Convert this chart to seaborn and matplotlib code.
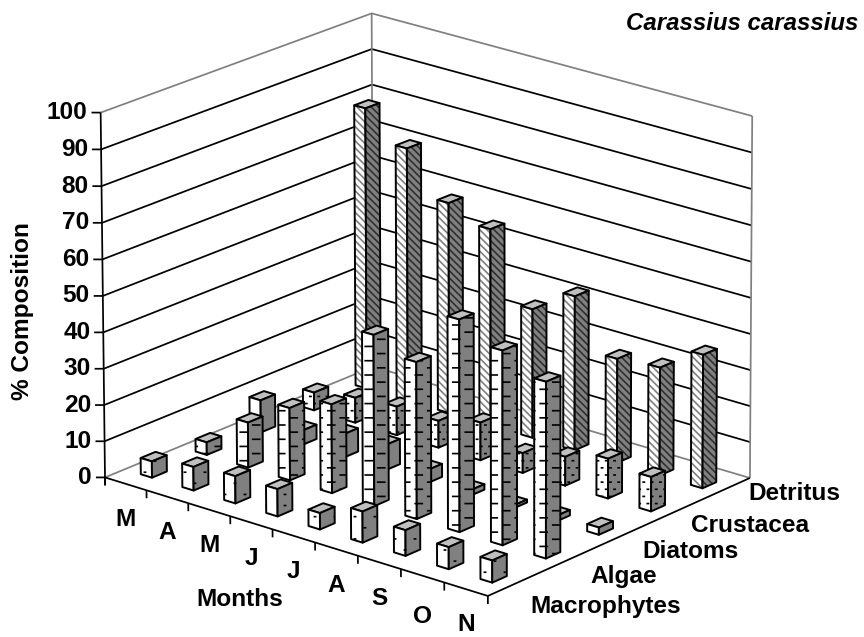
import numpy as np
import pandas as pd
import matplotlib
matplotlib.use("Agg")
import matplotlib.pyplot as plt
from matplotlib import hatch as mhatch
from matplotlib.path import Path
from mpl_toolkits.mplot3d import proj3d
from mpl_toolkits.mplot3d.art3d import Poly3DCollection, Line3DCollection
import seaborn as sns

months = ["M", "A", "M", "J", "J", "A", "S", "O", "N"]
foods = ["Macrophytes", "Algae", "Diatoms", "Crustacea", "Detritus"]
z_ticks = [0, 10, 20, 30, 40, 50, 60, 70, 80, 90, 100]

macrophytes = [4.5, 6.5, 7.5, 7.5, 4.5, 8.5, 7, 6, 6]
algae = [3.5, 12.5, 20, 24.5, 47, 43, 58, 53, 48]
diatoms = [9, 4, 6.5, 7, 3.6, 1.5, 0.8, 1.5, 2]
crustacea = [5, 7, 8, 7.5, 10.5, 5.5, 8, 11, 9.5]
detritus = [79, 71, 59, 55, 36, 43, 29, 30, 37]

df = pd.DataFrame([macrophytes, algae, diatoms, crustacea, detritus], index=foods)

sns.set_style("white")
plt.rcParams['font.family'] = ['Liberation Sans', 'DejaVu Sans']
plt.rcParams['hatch.linewidth'] = 1.2


# excel style fill patterns, aligned to the screen
class TileHatch(mhatch.HatchPatternBase):
    def __init__(self, hatch, density):
        self.segs = []
        if '-' in hatch:
            self.segs += self.brick(4, 14, 0.07)
        if 'o' in hatch:
            self.segs += self.brick(5, 9, 0.012)
        if '.' in hatch:
            self.segs += self.brick(12, 14, 0.012)
        if '\\' in hatch:
            self.segs += [(c, 1, c + 1, 0) for c in np.arange(-14, 14) / 14]
        self.num_vertices = len(self.segs) * 2

    def brick(self, cols, rows, length):
        out = []
        for r in range(rows):
            for c in range(cols):
                x = (c + 0.25 + 0.5 * (r % 2)) / cols
                y = (r + 0.5) / rows
                out.append((x - length / 2, y, x + length / 2, y))
        return out

    def set_vertices_and_codes(self, vertices, codes):
        vertices[:] = np.array(self.segs).reshape(-1, 2)
        codes[0::2] = Path.MOVETO
        codes[1::2] = Path.LINETO


mhatch._hatch_types[:] = [TileHatch]
patterns = {"Macrophytes": "o", "Algae": "-", "Diatoms": None, "Crustacea": ".", "Detritus": "\\"}

W, H = 864, 637
nx, ny = len(months), len(foods)
fig = plt.figure(figsize=(W / 100, H / 100), dpi=100, facecolor="white")
ax = fig.add_axes([0, (H - W) / 2 / H, 1, W / H], projection="3d")
ax.set_xlim(0, nx, view_margin=0)
ax.set_ylim(0, ny, view_margin=0)
ax.set_zlim(0, 100, view_margin=0)
ax.set_axis_off()
ax.computed_zorder = False
ax.patch.set_alpha(0)
ax.apply_aspect()

# excel's camera is not one mplot3d can do with elev/azim, so fit the projection to the box corners
box = [(0, 0, 0), (0, ny, 0), (nx, ny, 0), (nx, 0, 0), (0, 0, 100), (0, ny, 100), (nx, ny, 100)]
box_px = [(106, 477), (372, 368), (751, 476), (487, 597), (100.5, 112), (372, 13), (752, 117)]
uv = ax.transData.inverted().transform([(px, H - py) for px, py in box_px])
A, b = [], []
for (x, y, z), (u, v) in zip(box, uv):
    A.append([x, y, z, 1, 0, 0, 0, 0, -u * x, -u * y, -u * z])
    A.append([0, 0, 0, 0, x, y, z, 1, -v * x, -v * y, -v * z])
    b += [u, v]
p = np.linalg.lstsq(np.array(A), np.array(b), rcond=None)[0]
rows = np.array([p[:4], p[4:8], [*p[8:], 1]])
M = np.vstack([rows[0], rows[1], np.linalg.svd(rows)[2][-1], rows[2]])
ax.get_proj = lambda: M


def wire(xs, ys, zs, color="black", lw=1.25):
    ax.add_collection3d(Line3DCollection([list(zip(xs, ys, zs))], colors=color, linewidths=lw, zorder=1))


# walls
for v in z_ticks[1:-1]:
    wire([0, 0, nx], [0, ny, ny], [v, v, v])
wire([0, 0, nx], [0, ny, ny], [100, 100, 100], "#808080")
wire([0, 0, nx], [0, ny, ny], [0, 0, 0], "#808080")
wire([0, 0], [ny, ny], [0, 100], "#808080")
wire([nx, nx], [ny, ny], [0, 100], "#808080")
wire([0, 0], [0, 0], [-2.2, 100])
for v in z_ticks:
    wire([-0.125, 0], [-0.07, 0], [v, v])
# floor front edges and ticks
wire([0, nx, nx], [0, 0, ny], [0, 0, 0])
for i in range(nx + 1):
    wire([i, i], [0, 0], [0, -2.2])

# bars, back row first
dx, dy = 0.135, 0.135
order = 2
for j in range(ny - 1, -1, -1):
    food = foods[j]
    stripes = food == "Detritus"
    for i in range(nx):
        h = df.loc[food].iloc[i]
        x0, x1 = i + 0.5 - dx, i + 0.5 + dx
        y0, y1 = j + 0.5 - dy, j + 0.5 + dy
        faces = [
            ([(x0, y0, h), (x1, y0, h), (x1, y1, h), (x0, y1, h)], "#c0c0c0", None, "black"),
            ([(x0, y0, 0), (x1, y0, 0), (x1, y0, h), (x0, y0, h)], "white", patterns[food],
             "#808080" if stripes else "black"),
            ([(x1, y0, 0), (x1, y1, 0), (x1, y1, h), (x1, y0, h)], "#808080", patterns[food],
             "#303030" if stripes else "black"),
        ]
        for verts, col, hatch, hcol in faces:
            ax.add_collection3d(Poly3DCollection([verts], facecolors=col, edgecolors=hcol, linewidths=0,
                                                 hatch=hatch, zorder=order))
            ax.add_collection3d(Poly3DCollection([verts], facecolors=(1, 1, 1, 0), edgecolors="black", linewidths=1.4,
                                                 zorder=order))
            order += 1


def label3d(x, y, z, s, ox, oy, **kw):
    px, py, _ = proj3d.proj_transform(x, y, z, M)
    ax.annotate(s, (px, py), xycoords="data", xytext=(ox, oy), textcoords="offset pixels", **kw)


# labels
font = dict(fontsize=17.6, fontweight="bold", color="black")
for v in z_ticks:
    label3d(0, 0, v, str(v), -13, 0, ha="right", va="center", **font)
month_drop = [36, 36, 36, 36, 36, 36, 36, 41, 35]
for i, m in enumerate(months):
    label3d(i + 0.5, 0, 0, m, 0, -month_drop[i], ha="center", va="center", **font)
for name, px, py in zip(foods, [530, 590, 642, 691, 748], [607, 576, 552, 526, 493]):
    fig.text(px / W, 1 - py / H, name, ha="left", va="center", **font)
fig.text(240 / W, 1 - 600 / H, "Months", ha="center", va="center", **font)
fig.text(23 / W, 1 - 311 / H, "% Composition", rotation=90, ha="center", va="center", **font)
fig.text(858 / W, 1 - 24 / H, "Carassius carassius", ha="right", va="center", fontstyle="italic",
         fontsize=17.3, fontweight="bold", color="black")

fig.savefig("out.png", dpi=100)
